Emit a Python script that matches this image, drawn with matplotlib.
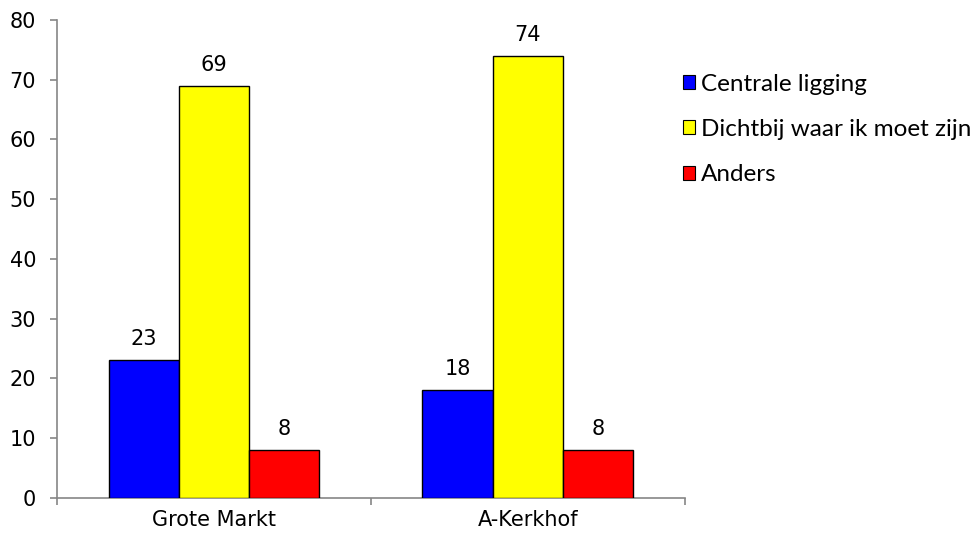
import matplotlib
matplotlib.use("Agg")
import matplotlib.pyplot as plt
import numpy as np

categories = ["Grote Markt", "A-Kerkhof"]
series_names = ["Centrale ligging", "Dichtbij waar ik moet zijn", "Anders"]
centrale = [23, 18]
dichtbij = [69, 74]
anders = [8, 8]
colors = ["#0000FF", "#FFFF00", "#FF0000"]

fig = plt.figure(figsize=(9.75, 5.4), dpi=100)
ax = fig.add_axes([0.0585, 0.078, 0.644, 0.885])

x = np.arange(len(categories))
w = 0.224
for i, (vals, c, name) in enumerate(zip([centrale, dichtbij, anders], colors, series_names)):
    pos = x + (i - 1) * w
    ax.bar(pos, vals, w, color=c, edgecolor="black", linewidth=1.0, label=name, zorder=3)
    for p, v in zip(pos, vals):
        ax.annotate(str(v), (p, v), xytext=(0, 8), textcoords="offset points",
                    ha="center", va="bottom", fontsize=15, family="DejaVu Sans")

ax.set_xlim(-0.5, 1.5)
ax.set_ylim(0, 80)
ax.set_yticks(range(0, 81, 10))
ax.set_xticks([-0.5, 0.5, 1.5])
ax.set_xticklabels([])
ax.set_xticks(x, minor=True)
ax.set_xticklabels(categories, minor=True)
ax.tick_params(axis="x", which="minor", length=0, pad=9, labelsize=15)
ax.tick_params(axis="x", which="major", length=5, direction="out", color="#868686", width=1.2)
ax.tick_params(axis="y", length=5, direction="out", color="#868686", width=1.2, labelsize=15, pad=10)
for s in ["top", "right"]:
    ax.spines[s].set_visible(False)
for s in ["left", "bottom"]:
    ax.spines[s].set_color("#868686")
    ax.spines[s].set_linewidth(1.2)

leg = ax.legend(loc="upper left", bbox_to_anchor=(0.981, 0.908), frameon=False,
                prop={"family": "Lato", "size": 17.5}, handlelength=0.5, handleheight=0.5,
                handletextpad=0.25, labelspacing=1.0, borderaxespad=0)
for h in leg.legend_handles:
    h.set_linewidth(0.8)

fig.savefig("out.png", dpi=100)
